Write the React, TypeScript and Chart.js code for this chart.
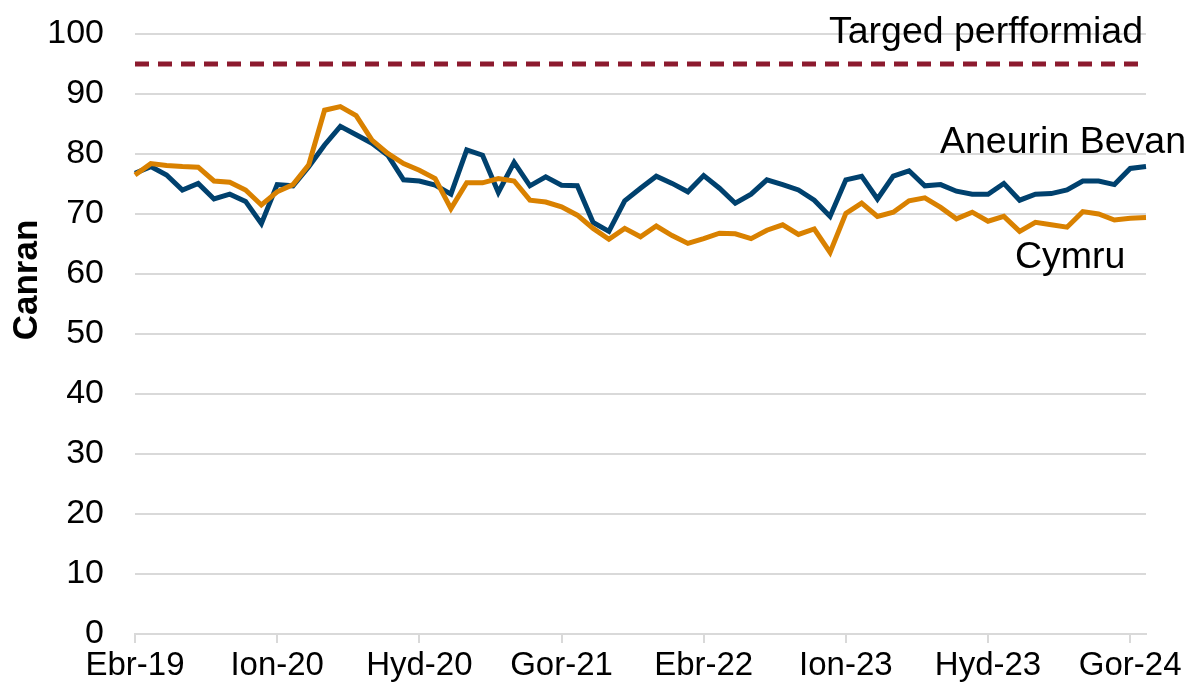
import React, { useEffect, useRef } from "react";
import { Chart, registerables } from "chart.js";

Chart.register(...registerables);

const monthNames = ["Ion", "Chwe", "Maw", "Ebr", "Mai", "Meh", "Gor", "Aws", "Med", "Hyd", "Tach", "Rhag"];

// Monthly categories, Ebr-19 .. Aws-24
const categories: string[] = [];
for (let i = 0; i < 65; i++) {
  const m = (3 + i) % 12;
  const y = 19 + Math.floor((3 + i) / 12);
  categories.push(`${monthNames[m]}-${y}`);
}

const aneurinBevan = [
  76.8, 77.9, 76.5, 74.0, 75.1, 72.5, 73.3, 72.1, 68.4, 74.9, 74.7, 77.9, 81.5, 84.6, 83.2, 81.8,
  79.8, 75.7, 75.5, 74.8, 73.3, 80.7, 79.8, 73.6, 78.6, 74.7, 76.2, 74.8, 74.7, 68.6, 67.1, 72.2,
  74.3, 76.3, 75.1, 73.7, 76.4, 74.3, 71.8, 73.3, 75.7, 74.9, 74.0, 72.3, 69.6, 75.7, 76.3, 72.5,
  76.3, 77.2, 74.7, 74.9, 73.8, 73.3, 73.3, 75.1, 72.3, 73.3, 73.4, 74.0, 75.5, 75.5, 74.9, 77.6,
  77.9,
];

const cymru = [
  76.5, 78.4, 78.1, 77.9, 77.8, 75.5, 75.3, 74.0, 71.5, 73.7, 74.9, 78.2, 87.3, 87.9, 86.4, 82.3,
  80.1, 78.4, 77.3, 75.9, 70.9, 75.2, 75.2, 75.9, 75.5, 72.3, 72.0, 71.2, 69.8, 67.6, 65.8, 67.6,
  66.2, 68.0, 66.4, 65.1, 65.9, 66.8, 66.7, 65.9, 67.3, 68.2, 66.6, 67.5, 63.6, 70.1, 71.8, 69.6,
  70.3, 72.2, 72.7, 71.1, 69.2, 70.3, 68.8, 69.6, 67.1, 68.6, 68.2, 67.8, 70.4, 70.0, 69.0, 69.3,
  69.4,
];

const targetValue = 95;
const target = categories.map(() => targetValue);

const labelEvery = 9;
const yTicks = { min: 0, max: 100, step: 10 };

const FONT = "'Liberation Sans', Arial, sans-serif";

const textPlugin = {
  id: "textPlugin",
  afterDraw(chart: any) {
    const ctx = chart.ctx;
    ctx.save();
    ctx.fillStyle = "#000";
    ctx.textBaseline = "middle";
    ctx.font = `37.5px ${FONT}`;
    ctx.textAlign = "right";
    ctx.fillText("Targed perfformiad", 1143, 33);
    ctx.textAlign = "left";
    ctx.fillText("Aneurin Bevan", 940, 143);
    ctx.fillText("Cymru", 1015, 258);
    // y axis title
    ctx.translate(27, 280);
    ctx.rotate(-Math.PI / 2);
    ctx.textAlign = "center";
    ctx.font = `bold 35px ${FONT}`;
    ctx.fillText("Canran", 0, 0);
    ctx.restore();
  },
};

export default function App() {
  const ref = useRef<HTMLCanvasElement>(null);
  useEffect(() => {
    if (!ref.current) return;
    const chart = new Chart(ref.current, {
      type: "line",
      data: {
        labels: categories,
        datasets: [
          {
            label: "Targed perfformiad",
            data: target,
            borderColor: "#8C1A2E",
            borderWidth: 5,
            borderDash: [14, 9],
            pointRadius: 0,
            fill: false,
          },
          {
            label: "Cymru",
            data: cymru,
            borderColor: "#D98100",
            borderWidth: 5,
            pointRadius: 0,
            tension: 0,
            fill: false,
          },
          {
            label: "Aneurin Bevan",
            data: aneurinBevan,
            borderColor: "#00416E",
            borderWidth: 5,
            pointRadius: 0,
            tension: 0,
            fill: false,
          },
        ],
      },
      options: {
        animation: false,
        responsive: false,
        layout: { padding: { top: 34, right: 42, left: 0, bottom: 0 } },
        plugins: { legend: { display: false }, tooltip: { enabled: false } },
        scales: {
          x: {
            offset: false,
            grid: {
              drawOnChartArea: false,
              drawTicks: true,
              tickLength: 9,
              lineWidth: 2,
              color: (c: any) => (c.index % labelEvery === 0 ? "#d9d9d9" : "rgba(0,0,0,0)"),
            },
            border: { display: true, color: "#d9d9d9", width: 2 },
            ticks: {
              autoSkip: false,
              maxRotation: 0,
              minRotation: 0,
              padding: 3,
              color: "#000",
              font: { size: 33, family: FONT },
              callback: (_v: any, i: number) => (i % labelEvery === 0 ? categories[i] : ""),
            },
            afterFit: (s: any) => {
              s.height = 61;
              s.paddingLeft = 0;
              s.paddingRight = 0;
            },
          },
          y: {
            min: yTicks.min,
            max: yTicks.max,
            grid: { color: "#d9d9d9", lineWidth: 2, drawTicks: false },
            border: { display: false },
            ticks: {
              stepSize: yTicks.step,
              padding: 31,
              color: "#000",
              font: { size: 34, family: FONT },
            },
            afterFit: (s: any) => {
              s.width = 135;
              s.paddingTop = 0;
              s.paddingBottom = 0;
            },
          },
        },
      },
      plugins: [textPlugin],
    });
    return () => chart.destroy();
  }, []);
  return (
    <div style={{ position: "fixed", left: 0, top: 0, width: 1188, height: 695, background: "#fff" }}>
      <canvas ref={ref} width={1188} height={695} style={{ width: 1188, height: 695 }} />
    </div>
  );
}
